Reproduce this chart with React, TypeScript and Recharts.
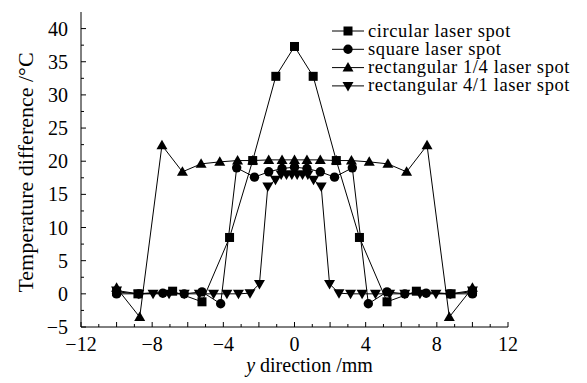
import React from "react";
import { LineChart, Line, XAxis, YAxis, Legend } from "recharts";

// x positions (mm) and temperature differences (°C)
const circularX = [-10, -8.8, -6.85, -5.2, -3.65, -2.35, -1.05, 0, 1.05, 2.35, 3.65, 5.2, 6.85, 8.8, 10];
const circularY = [0.3, 0, 0.4, -1.2, 8.5, 20.1, 32.8, 37.3, 32.8, 20.1, 8.5, -1.2, 0.4, 0, 0.3];

const squareX = [-10, -8.75, -7.4, -6.2, -5.2, -4.15, -3.25, -2.25, -1.45, -0.7, 0, 0.7, 1.45, 2.25, 3.25, 4.15, 5.2, 6.2, 7.4, 8.75, 10];
const squareY = [0, 0, 0.1, 0, 0.3, -1.5, 19, 17.6, 18.4, 18.9, 19.1, 18.9, 18.4, 17.6, 19, -1.5, 0.3, 0, 0.1, 0, 0];

const rect14X = [-10, -8.7, -7.45, -6.3, -5.25, -4.2, -3.2, -2.35, -1.45, -0.7, 0, 0.7, 1.45, 2.35, 3.2, 4.2, 5.25, 6.3, 7.45, 8.7, 10];
const rect14Y = [0.9, -3.5, 22.4, 18.4, 19.6, 19.9, 20.1, 20.1, 20.2, 20.2, 20.2, 20.2, 20.2, 20.1, 20.1, 19.9, 19.6, 18.4, 22.4, -3.5, 0.9];

const rect41X = [-10, -8.75, -7.95, -7.05, -6.2, -5.35, -4.55, -3.8, -3.15, -2.5, -1.97, -1.5, -1.07, -0.75, -0.45, -0.15,
  0.15, 0.45, 0.75, 1.07, 1.5, 1.97, 2.5, 3.15, 3.8, 4.55, 5.35, 6.2, 7.05, 7.95, 8.75, 10];
const rect41Y = [0.5, 0, 0, 0, 0, 0, 0, 0, 0, 0.1, 1.5, 16.2, 17.2, 18, 18, 18,
  18, 18, 18, 17.2, 16.2, 1.5, 0.1, 0, 0, 0, 0, 0, 0, 0, 0, 0.5];

const xTicks = [-12, -11, -10, -9, -8, -7, -6, -5, -4, -3, -2, -1, 0, 1, 2, 3, 4, 5, 6, 7, 8, 9, 10, 11, 12];
const yTicks = [-5, -2.5, 0, 2.5, 5, 7.5, 10, 12.5, 15, 17.5, 20, 22.5, 25, 27.5, 30, 32.5, 35, 37.5, 40];

const seriesNames = ["circular laser spot", "square laser spot", "rectangular 1/4 laser spot", "rectangular 4/1 laser spot"];
const markerKinds = ["square", "circle", "up", "down"];

const toPoints = (xs: number[], ys: number[]) => xs.map((x, i) => ({ x, y: ys[i] }));
const circular = toPoints(circularX, circularY);
const square = toPoints(squareX, squareY);
const rect14 = toPoints(rect14X, rect14Y);
const rect41 = toPoints(rect41X, rect41Y);

const FONT = "'Liberation Serif', 'Times New Roman', serif";
const fmt = (v: number) => (v < 0 ? "\u2212" + Math.abs(v) : String(v));

function Marker({ cx, cy, kind }: { cx: number; cy: number; kind: string }) {
  if (cx == null || cy == null) return null;
  if (kind === "square") return <rect x={cx - 4.5} y={cy - 4.5} width={9} height={9} fill="#000" />;
  if (kind === "circle") return <circle cx={cx} cy={cy} r={4.7} fill="#000" />;
  if (kind === "up") return <polygon points={`${cx},${cy - 5.5} ${cx + 5.5},${cy + 4} ${cx - 5.5},${cy + 4}`} fill="#000" />;
  return <polygon points={`${cx},${cy + 5.5} ${cx + 5.5},${cy - 4} ${cx - 5.5},${cy - 4}`} fill="#000" />;
}

const dotFor = (kind: string) => (p: any) => <Marker key={p.index} cx={p.cx} cy={p.cy} kind={kind} />;

function XTick(props: any) {
  const { x, y, payload } = props;
  const v = payload.value;
  const len = v % 2 === 0 ? 5 : 3;
  return (
    <g>
      <line x1={x} y1={y} x2={x} y2={y - len} stroke="#000" strokeWidth={1} />
      {v % 4 === 0 && (
        <text x={x} y={y + 24} textAnchor="middle" fontFamily={FONT} fontSize={20} fill="#000">
          {fmt(v)}
        </text>
      )}
    </g>
  );
}

function YTick(props: any) {
  const { x, y, payload } = props;
  const v = payload.value;
  const major = v % 5 === 0;
  return (
    <g>
      <line x1={x} y1={y} x2={x + (major ? 5 : 3)} y2={y} stroke="#000" strokeWidth={1} />
      {major && (
        <text x={x - 13} y={y + 7} textAnchor="end" fontFamily={FONT} fontSize={20} fill="#000">
          {fmt(v)}
        </text>
      )}
    </g>
  );
}

function LegendBox() {
  return (
    <svg width={260} height={84} style={{ display: "block" }}>
      {seriesNames.map((name, i) => {
        const cy = 11 + i * 18.3;
        return (
          <g key={name}>
            <line x1={2} y1={cy} x2={34} y2={cy} stroke="#000" strokeWidth={1} />
            <Marker cx={18} cy={cy} kind={markerKinds[i]} />
            <text x={38} y={cy + 5.5} fontFamily={FONT} fontSize={18.5} letterSpacing={0.6} fill="#000">
              {name}
            </text>
          </g>
        );
      })}
    </svg>
  );
}

export default function App() {
  return (
    <div style={{ position: "absolute", left: 0, top: 0, background: "#fff" }}>
      <LineChart width={587} height={383} margin={{ top: 12, right: 79, bottom: 0, left: 0 }}>
        <XAxis
          type="number"
          dataKey="x"
          domain={[-12, 12]}
          ticks={xTicks}
          interval={0}
          tickSize={0}
          tickMargin={0}
          tickLine={false}
          tick={<XTick />}
          axisLine={{ stroke: "#000" }}
          height={56}
          allowDataOverflow
          label={{
            content: (p: any) => {
              const vb = p.viewBox;
              return (
                <text x={vb.x + vb.width / 2 + 15} y={vb.y + 45} textAnchor="middle" fontFamily={FONT} fontSize={20} fill="#000">
                  <tspan fontStyle="italic">y</tspan> direction /mm
                </text>
              );
            },
          }}
        />
        <XAxis xAxisId="top" orientation="top" type="number" domain={[-12, 12]} height={0} tick={false} tickLine={false} axisLine={{ stroke: "#000" }} />
        <YAxis
          type="number"
          domain={[-5, 42.5]}
          ticks={yTicks}
          interval={0}
          tickSize={0}
          tickMargin={0}
          tickLine={false}
          tick={<YTick />}
          axisLine={{ stroke: "#000" }}
          width={81}
          allowDataOverflow
          label={{
            content: (p: any) => {
              const vb = p.viewBox;
              const cx = vb.x + 25;
              const cy = vb.y + vb.height / 2 + 3;
              return (
                <text x={cx} y={cy} transform={`rotate(-90, ${cx}, ${cy})`} textAnchor="middle" dominantBaseline="central" fontFamily={FONT} fontSize={22} fill="#000">
                  Temperature difference /°C
                </text>
              );
            },
          }}
        />
        <YAxis yAxisId="right" orientation="right" type="number" domain={[-5, 42.5]} width={0} tick={false} tickLine={false} axisLine={{ stroke: "#000" }} />
        <Legend
          layout="vertical"
          align="center"
          verticalAlign="middle"
          wrapperStyle={{ left: 330, top: 20, width: 260, height: 84 }}
          content={() => <LegendBox />}
        />
        <Line data={circular} dataKey="y" name={seriesNames[0]} stroke="#000" strokeWidth={1} dot={dotFor("square")} activeDot={false} isAnimationActive={false} />
        <Line data={square} dataKey="y" name={seriesNames[1]} stroke="#000" strokeWidth={1} dot={dotFor("circle")} activeDot={false} isAnimationActive={false} />
        <Line data={rect14} dataKey="y" name={seriesNames[2]} stroke="#000" strokeWidth={1} dot={dotFor("up")} activeDot={false} isAnimationActive={false} />
        <Line data={rect41} dataKey="y" name={seriesNames[3]} stroke="#000" strokeWidth={1} dot={dotFor("down")} activeDot={false} isAnimationActive={false} />
      </LineChart>
    </div>
  );
}
